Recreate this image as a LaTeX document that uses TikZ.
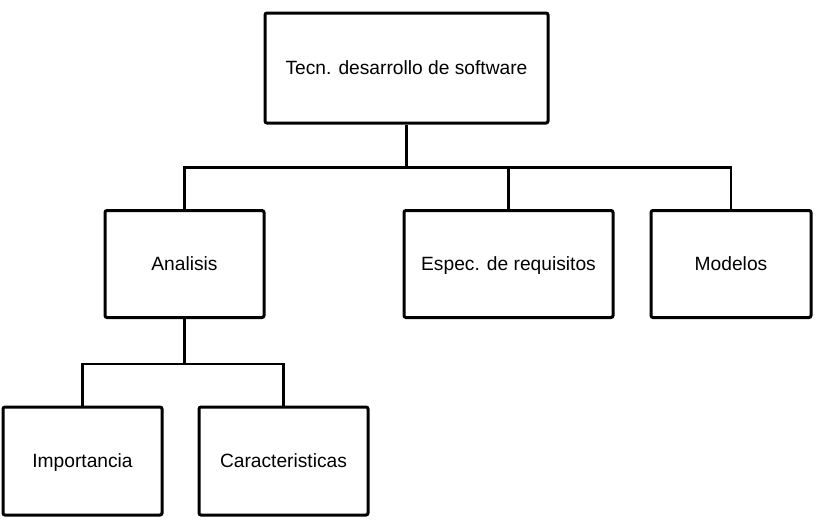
\documentclass[tikz,border=0pt]{standalone}
\usepackage{fontspec}
\setmainfont{Liberation Sans}
\tikzset{
  box/.style={draw, line width=1.5pt, rounded corners=1pt, align=center,
    font=\fontsize{9.6}{11}\selectfont, inner sep=0pt,
    text height=1.5ex, text depth=0.25ex},
  link/.style={line width=1.1pt},
}
\begin{document}
\begin{tikzpicture}[x=0.5pt,y=-0.5pt]
      \useasboundingbox (0,0) rectangle (834,525);
      \draw
        (406.5,68) node[box, minimum width=141.5pt, minimum height=55pt] (tecn){Tecn. desarrollo de software}
        (184.5,264) node[box, minimum width=79.5pt, minimum height=53.5pt] (analisis){Analisis}
        (508.5,264) node[box, minimum width=104.5pt, minimum height=53.5pt] (espec){Espec. de requisitos}
        (731,264) node[box, minimum width=80pt, minimum height=53.5pt] (modelos){Modelos}
        (82.5,461) node[box, minimum width=79.5pt, minimum height=54pt] (importancia){Importancia}
        (283.5,461) node[box, minimum width=84.5pt, minimum height=54pt] (caract){Caracteristicas};
      \begin{scope}[link]
        \draw (tecn.south) -- ++(0,43) -| (analisis.north);
        \draw (tecn.south) -- ++(0,43) -| (espec.north);
        \draw (tecn.south) -- ++(0,43) -| (modelos.north);
        \draw (analisis.south) -- ++(0,45) -| (importancia.north);
        \draw (analisis.south) -- ++(0,45) -| (caract.north);
      \end{scope}
    \end{tikzpicture}
\end{document}
